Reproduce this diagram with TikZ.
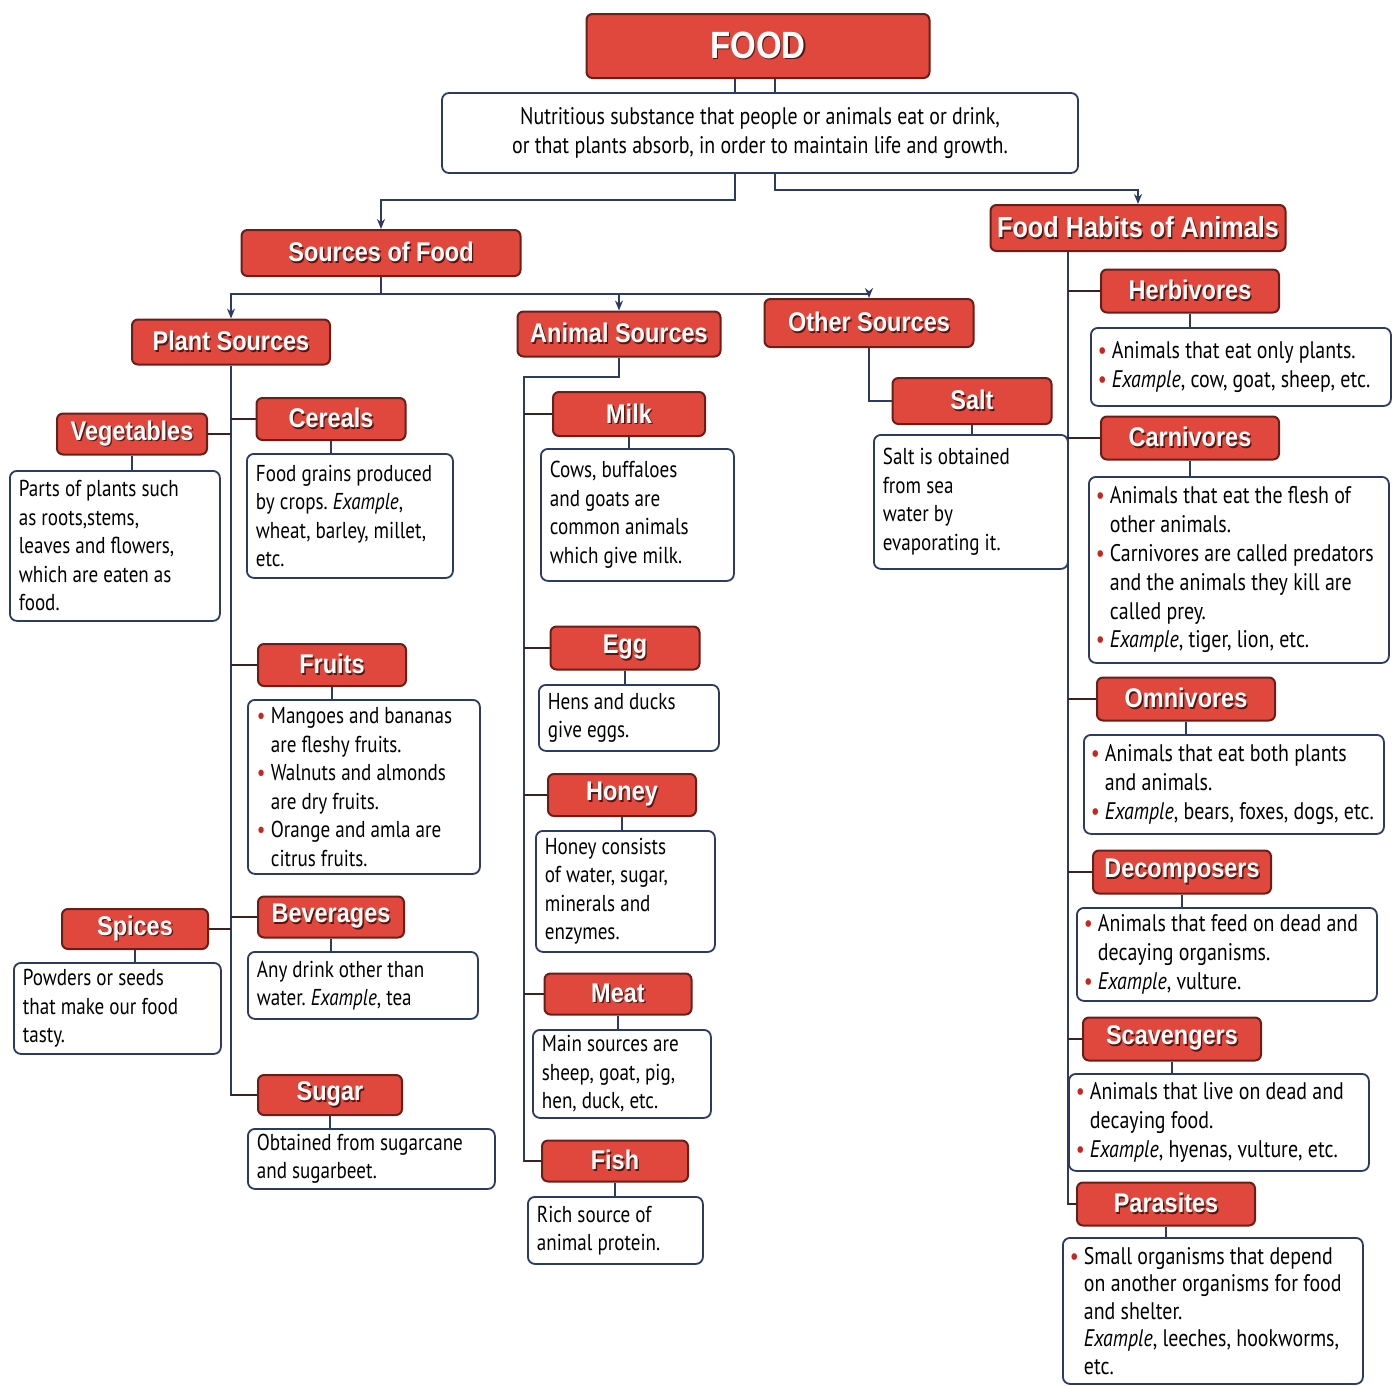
\documentclass[tikz,border=0pt]{standalone}
\usepackage{fontspec}
\setmainfont[FakeStretch=0.83]{PT Sans}
\newfontfamily\headfont[FakeStretch=0.87]{Liberation Sans}
\usetikzlibrary{arrows.meta}
\definecolor{boxred}{HTML}{E0483E}
\definecolor{redline}{HTML}{6A1E18}
\definecolor{shadowc}{HTML}{5A140F}
\definecolor{navy}{HTML}{2C3A66}
\definecolor{stubc}{HTML}{3A2222}
\definecolor{bulred}{HTML}{C8261E}
\newcommand\sh[1]{\rlap{\kern1.4pt\raisebox{-1.4pt}{\textcolor{shadowc}{#1}}}#1}
\newcommand\bul{\makebox[14pt][l]{\textcolor{bulred}{\textbullet}}}
\newcommand\ind{\hspace*{14pt}}
\tikzset{
  redbox/.style={draw=redline, line width=2pt, fill=boxred, rounded corners=6pt,
    text=white, font=\headfont\bfseries\fontsize{27}{30}\selectfont, inner sep=0pt},
  tight/.style={execute at begin node={\frenchspacing\spaceskip=0.22em\relax\xspaceskip=0.24em\relax\hyphenpenalty=10000\relax}},
  descbox/.style={draw=navy, line width=1.8pt, rounded corners=7pt, fill=white,
    align=left, anchor=north west, inner xsep=9pt, inner ysep=4pt, tight,
    font=\fontsize{23}{28.5}\selectfont, text=black},
  rdesc/.style={descbox, inner xsep=7pt, font=\fontsize{24}{28.8}\selectfont},
  conn/.style={draw=navy, line width=1.6pt},
  stub/.style={draw=stubc, line width=2.2pt},
  arr/.style={conn, -{Stealth[length=10pt,width=8pt]}},
}
\begin{document}
\begin{tikzpicture}[x=1pt,y=-1pt]
\useasboundingbox[fill=white] (0,0) rectangle (1398,1385);

% top
\node[redbox, minimum width=343pt, minimum height=64pt, font=\headfont\bfseries\fontsize{38}{40}\selectfont] (food) at (758,46) {\sh{FOOD}};
\node[draw=navy, line width=1.8pt, rounded corners=7pt, fill=white, align=center, tight,
  text width=620pt, minimum height=80pt, inner xsep=8pt, font=\fontsize{24}{29}\selectfont] (def) at (760,133)
  {Nutritious substance that people or animals eat or drink,\\or that plants absorb, in order to maintain life and growth.};

\coordinate (j1) at (735,200);
\coordinate (j3) at (775,190);
\draw[conn] (food.south -| j1) -- (def.north -| j1);
\draw[conn] (food.south -| j3) -- (def.north -| j3);

\node[redbox, minimum width=279pt, minimum height=46pt] (sof) at (381,253) {\sh{Sources of Food}};
\node[redbox, minimum width=295pt, minimum height=46pt, font=\headfont\bfseries\fontsize{29}{30}\selectfont] (fh) at (1138,228) {\sh{Food Habits of Animals}};
\draw[arr] (def.south -| j1) -- (j1) -| (sof.north);
\draw[arr] (def.south -| j3) -- (j3) -| (fh.north);

\node[redbox, minimum width=198pt, minimum height=45pt] (plant) at (231,342) {\sh{Plant Sources}};
\node[redbox, minimum width=203pt, minimum height=45pt] (animal) at (619,334) {\sh{Animal Sources}};
\node[redbox, minimum width=209pt, minimum height=48pt] (other) at (869,323) {\sh{Other Sources}};
\coordinate (j2) at (381,294);
\draw[conn] (sof.south) -- (j2);
\draw[arr] (j2) -| (plant.north);
\draw[arr] (j2) -| (other.north);
\draw[arr] (j2 -| animal.north) -- (animal.north);

% plant sources
\node[redbox, minimum width=150pt, minimum height=41pt] (veg) at (132,434) {\sh{Vegetables}};
\node[redbox, minimum width=149pt, minimum height=42pt] (cer) at (331,419) {\sh{Cereals}};
\node[redbox, minimum width=148pt, minimum height=42pt] (fru) at (332,665) {\sh{Fruits}};
\node[redbox, minimum width=146pt, minimum height=40pt] (spi) at (135,929) {\sh{Spices}};
\node[redbox, minimum width=146pt, minimum height=41pt] (bev) at (331,917) {\sh{Beverages}};
\node[redbox, minimum width=144pt, minimum height=40pt] (sug) at (330,1095) {\sh{Sugar}};

\node[descbox, text width=192pt, minimum height=150pt] (vegd) at (9,470)
  {Parts of plants such\\as roots,stems,\\leaves and flowers,\\which are eaten as\\food.};
\node[descbox, text width=188pt, minimum height=124pt] (cerd) at (246,453)
  {Food grains produced\\by crops. \textit{Example},\\wheat, barley, millet,\\etc.};
\node[descbox, text width=214pt, minimum height=174pt] (frud) at (247,699)
  {\bul Mangoes and bananas\\\ind are fleshy fruits.\\\bul Walnuts and almonds\\\ind are dry fruits.\\\bul Orange and amla are\\\ind citrus fruits.};
\node[descbox, text width=189pt, minimum height=91pt] (spid) at (13,962)
  {Powders or seeds\\that make our food\\tasty.};
\node[descbox, text width=212pt, minimum height=67pt] (bevd) at (247,951)
  {Any drink other than\\water. \textit{Example}, tea};
\node[descbox, text width=229pt, minimum height=60pt] (sugd) at (247,1128)
  {Obtained from sugarcane\\and sugarbeet.};

\draw[conn] (plant.south) -- (plant.south |- sug.west) -- (sug.west);
\draw[stub] (veg.east) -- (veg.east -| plant.south);
\draw[stub] (cer.west) -- (cer.west -| plant.south);
\draw[stub] (fru.west) -- (fru.west -| plant.south);
\draw[stub] (spi.east) -- (spi.east -| plant.south);
\draw[stub] (bev.west) -- (bev.west -| plant.south);
\draw[stub] (sug.west) -- (sug.west -| plant.south);
\foreach \h/\d in {veg/vegd,cer/cerd,fru/frud,spi/spid,bev/bevd,sug/sugd}
  \draw[conn] (\h.south) -- (\h.south |- \d.north);

% animal sources
\node[redbox, minimum width=152pt, minimum height=44pt] (milk) at (629,414) {\sh{Milk}};
\node[redbox, minimum width=149pt, minimum height=43pt] (egg) at (625,648) {\sh{Egg}};
\node[redbox, minimum width=148pt, minimum height=42pt] (hon) at (622,795) {\sh{Honey}};
\node[redbox, minimum width=147pt, minimum height=41pt] (meat) at (618,994) {\sh{Meat}};
\node[redbox, minimum width=146pt, minimum height=41pt] (fish) at (615,1161) {\sh{Fish}};

\node[descbox, text width=175pt, minimum height=132pt] (milkd) at (540,448)
  {Cows, buffaloes\\and goats are\\common animals\\which give milk.};
\node[descbox, text width=162pt, minimum height=66pt] (eggd) at (538,684)
  {Hens and ducks\\give eggs.};
\node[descbox, text width=161pt, minimum height=121pt] (hond) at (535,830)
  {Honey consists\\of water, sugar,\\minerals and\\enzymes.};
\node[descbox, text width=160pt, minimum height=88pt] (meatd) at (532,1029)
  {Main sources are\\sheep, goat, pig,\\hen, duck, etc.};
\node[descbox, text width=157pt, minimum height=67pt] (fishd) at (527,1196)
  {Rich source of\\animal protein.};

\coordinate (ja) at (524,377);
\draw[conn] (animal.south) |- (ja) -- (ja |- fish.west) -- (fish.west);
\foreach \h in {milk,egg,hon,meat,fish}
  \draw[stub] (\h.west) -- (\h.west -| ja);
\foreach \h/\d in {milk/milkd,egg/eggd,hon/hond,meat/meatd,fish/fishd}
  \draw[conn] (\h.south) -- (\h.south |- \d.north);

% other sources
\node[redbox, minimum width=159pt, minimum height=46pt] (salt) at (972,401) {\sh{Salt}};
\node[descbox, text width=176pt, minimum height=134pt] (saltd) at (873,434)
  {Salt is obtained\\from sea\\water by\\evaporating it.};
\draw[conn] (other.south) |- (salt.west);
\draw[conn] (salt.south) -- (salt.south |- saltd.north);

% food habits
\node[redbox, minimum width=178pt, minimum height=43pt] (herb) at (1190,291) {\sh{Herbivores}};
\node[redbox, minimum width=178pt, minimum height=43pt] (carn) at (1190,438) {\sh{Carnivores}};
\node[redbox, minimum width=178pt, minimum height=43pt] (omni) at (1186,699) {\sh{Omnivores}};
\node[redbox, minimum width=178pt, minimum height=43pt] (deco) at (1182,872) {\sh{Decomposers}};
\node[redbox, minimum width=178pt, minimum height=43pt] (scav) at (1172,1039) {\sh{Scavengers}};
\node[redbox, minimum width=178pt, minimum height=43pt] (para) at (1166,1204) {\sh{Parasites}};

\node[rdesc, text width=286pt, minimum height=78pt] (herbd) at (1090,327)
  {\bul Animals that eat only plants.\\\bul \textit{Example}, cow, goat, sheep, etc.};
\node[rdesc, text width=286pt, minimum height=186pt] (carnd) at (1088,476)
  {\bul Animals that eat the flesh of\\\ind other animals.\\\bul Carnivores are called predators\\\ind and the animals they kill are\\\ind called prey.\\\bul \textit{Example}, tiger, lion, etc.};
\node[rdesc, text width=286pt, minimum height=99pt] (omnid) at (1083,734)
  {\bul Animals that eat both plants\\\ind and animals.\\\bul \textit{Example}, bears, foxes, dogs, etc.};
\node[rdesc, text width=286pt, minimum height=93pt] (decod) at (1076,907)
  {\bul Animals that feed on dead and\\\ind decaying organisms.\\\bul \textit{Example}, vulture.};
\node[rdesc, text width=286pt, minimum height=97pt] (scavd) at (1068,1073)
  {\bul Animals that live on dead and\\\ind decaying food.\\\bul \textit{Example}, hyenas, vulture, etc.};
\node[rdesc, text width=286pt, minimum height=146pt, font=\fontsize{24}{27.5}\selectfont] (parad) at (1062,1237)
  {\bul Small organisms that depend\\\ind on another organisms for food\\\ind and shelter.\\\ind \textit{Example}, leeches, hookworms,\\\ind etc.};

\coordinate (jr) at (1068,260);
\draw[conn] (fh.south -| jr) -- (jr |- para.west) -- (para.west);
\foreach \h in {herb,carn,omni,deco,scav,para}
  \draw[stub] (\h.west) -- (\h.west -| jr);
\foreach \h/\d in {herb/herbd,carn/carnd,omni/omnid,deco/decod,scav/scavd,para/parad}
  \draw[conn] (\h.south) -- (\h.south |- \d.north);
\end{tikzpicture}
\end{document}
